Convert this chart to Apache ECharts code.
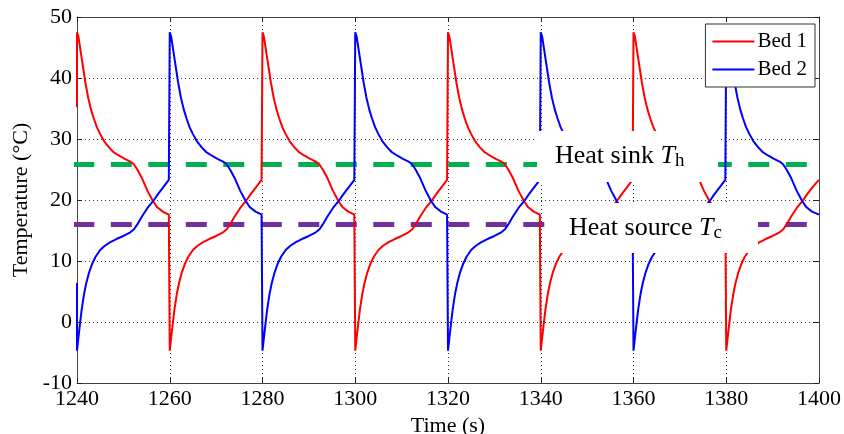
<!DOCTYPE html>
<html>
<head>
<meta charset="utf-8">
<script src="https://cdn.jsdelivr.net/npm/echarts@6/dist/echarts.min.js"></script>
<style>
  html, body { margin: 0; padding: 0; background: #fff; }
  #chart { width: 844px; height: 434px; }
</style>
</head>
<body>
<div id="chart"></div>
<script>
// tick labels
var xTicks = [1240, 1260, 1280, 1300, 1320, 1340, 1360, 1380, 1400];
var yTicks = [-10, 0, 10, 20, 30, 40, 50];

// Bed 1 (red) temperature, [time s, °C], one line per 20 s half cycle
var bed1 = [
  [1240, 35.2], [1240, 47.5], [1240.3, 46.8], [1240.6, 45.3], [1241, 43.3], [1241.3, 41.8], [1241.8, 39.3], [1242.4, 36.8], [1243, 34.9], [1243.6, 33.4], [1244.3, 31.9], [1245, 30.8], [1245.8, 29.7], [1246.8, 28.7], [1247.8, 27.9], [1249, 27.3], [1250.4, 26.7], [1251.5, 26.3], [1252.2, 25.9], [1253, 25.0], [1254, 23.6], [1255.2, 21.5], [1256.4, 19.8], [1257.3, 18.8], [1258.5, 18.1], [1259.8, 17.6],
  [1260, -4.7], [1260.3, -2.6], [1260.6, -0.6], [1261, 2.0], [1261.5, 4.5], [1262, 6.4], [1262.6, 8.1], [1263.3, 9.6], [1264, 10.7], [1265, 11.8], [1266, 12.5], [1267.2, 13.1], [1268.5, 13.6], [1270, 14.1], [1271.5, 14.7], [1272.3, 15.2], [1273, 16.0], [1274, 17.3], [1275.2, 18.7], [1276.4, 19.8], [1277.5, 21.0], [1278.7, 22.2], [1279.8, 23.3],
  [1280, 47.5], [1280.3, 46.8], [1280.6, 45.3], [1281, 43.3], [1281.3, 41.8], [1281.8, 39.3], [1282.4, 36.8], [1283, 34.9], [1283.6, 33.4], [1284.3, 31.9], [1285, 30.8], [1285.8, 29.7], [1286.8, 28.7], [1287.8, 27.9], [1289, 27.3], [1290.4, 26.7], [1291.5, 26.3], [1292.2, 25.9], [1293, 25.0], [1294, 23.6], [1295.2, 21.5], [1296.4, 19.8], [1297.3, 18.8], [1298.5, 18.1], [1299.8, 17.6],
  [1300, -4.7], [1300.3, -2.6], [1300.6, -0.6], [1301, 2.0], [1301.5, 4.5], [1302, 6.4], [1302.6, 8.1], [1303.3, 9.6], [1304, 10.7], [1305, 11.8], [1306, 12.5], [1307.2, 13.1], [1308.5, 13.6], [1310, 14.1], [1311.5, 14.7], [1312.3, 15.2], [1313, 16.0], [1314, 17.3], [1315.2, 18.7], [1316.4, 19.8], [1317.5, 21.0], [1318.7, 22.2], [1319.8, 23.3],
  [1320, 47.5], [1320.3, 46.8], [1320.6, 45.3], [1321, 43.3], [1321.3, 41.8], [1321.8, 39.3], [1322.4, 36.8], [1323, 34.9], [1323.6, 33.4], [1324.3, 31.9], [1325, 30.8], [1325.8, 29.7], [1326.8, 28.7], [1327.8, 27.9], [1329, 27.3], [1330.4, 26.7], [1331.5, 26.3], [1332.2, 25.9], [1333, 25.0], [1334, 23.6], [1335.2, 21.5], [1336.4, 19.8], [1337.3, 18.8], [1338.5, 18.1], [1339.8, 17.6],
  [1340, -4.7], [1340.3, -2.6], [1340.6, -0.6], [1341, 2.0], [1341.5, 4.5], [1342, 6.4], [1342.6, 8.1], [1343.3, 9.6], [1344, 10.7], [1345, 11.8], [1346, 12.5], [1347.2, 13.1], [1348.5, 13.6], [1350, 14.1], [1351.5, 14.7], [1352.3, 15.2], [1353, 16.0], [1354, 17.3], [1355.2, 18.7], [1356.4, 19.8], [1357.5, 21.0], [1358.7, 22.2], [1359.8, 23.3],
  [1360, 47.5], [1360.3, 46.8], [1360.6, 45.3], [1361, 43.3], [1361.3, 41.8], [1361.8, 39.3], [1362.4, 36.8], [1363, 34.9], [1363.6, 33.4], [1364.3, 31.9], [1365, 30.8], [1365.8, 29.7], [1366.8, 28.7], [1367.8, 27.9], [1369, 27.3], [1370.4, 26.7], [1371.5, 26.3], [1372.2, 25.9], [1373, 25.0], [1374, 23.6], [1375.2, 21.5], [1376.4, 19.8], [1377.3, 18.8], [1378.5, 18.1], [1379.8, 17.6],
  [1380, -4.7], [1380.3, -2.6], [1380.6, -0.6], [1381, 2.0], [1381.5, 4.5], [1382, 6.4], [1382.6, 8.1], [1383.3, 9.6], [1384, 10.7], [1385, 11.8], [1386, 12.5], [1387.2, 13.1], [1388.5, 13.6], [1390, 14.1], [1391.5, 14.7], [1392.3, 15.2], [1393, 16.0], [1394, 17.3], [1395.2, 18.7], [1396.4, 19.8], [1397.5, 21.0], [1398.7, 22.2], [1400, 23.3]
];

// Bed 2 (blue) temperature, [time s, °C], one line per 20 s half cycle
var bed2 = [
  [1240, 6.4], [1240, -4.7], [1240.3, -2.6], [1240.6, -0.6], [1241, 2.0], [1241.5, 4.5], [1242, 6.4], [1242.6, 8.1], [1243.3, 9.6], [1244, 10.7], [1245, 11.8], [1246, 12.5], [1247.2, 13.1], [1248.5, 13.6], [1250, 14.1], [1251.5, 14.7], [1252.3, 15.2], [1253, 16.0], [1254, 17.3], [1255.2, 18.7], [1256.4, 19.8], [1257.5, 21.0], [1258.7, 22.2], [1259.8, 23.3],
  [1260, 47.5], [1260.3, 46.8], [1260.6, 45.3], [1261, 43.3], [1261.3, 41.8], [1261.8, 39.3], [1262.4, 36.8], [1263, 34.9], [1263.6, 33.4], [1264.3, 31.9], [1265, 30.8], [1265.8, 29.7], [1266.8, 28.7], [1267.8, 27.9], [1269, 27.3], [1270.4, 26.7], [1271.5, 26.3], [1272.2, 25.9], [1273, 25.0], [1274, 23.6], [1275.2, 21.5], [1276.4, 19.8], [1277.3, 18.8], [1278.5, 18.1], [1279.8, 17.6],
  [1280, -4.7], [1280.3, -2.6], [1280.6, -0.6], [1281, 2.0], [1281.5, 4.5], [1282, 6.4], [1282.6, 8.1], [1283.3, 9.6], [1284, 10.7], [1285, 11.8], [1286, 12.5], [1287.2, 13.1], [1288.5, 13.6], [1290, 14.1], [1291.5, 14.7], [1292.3, 15.2], [1293, 16.0], [1294, 17.3], [1295.2, 18.7], [1296.4, 19.8], [1297.5, 21.0], [1298.7, 22.2], [1299.8, 23.3],
  [1300, 47.5], [1300.3, 46.8], [1300.6, 45.3], [1301, 43.3], [1301.3, 41.8], [1301.8, 39.3], [1302.4, 36.8], [1303, 34.9], [1303.6, 33.4], [1304.3, 31.9], [1305, 30.8], [1305.8, 29.7], [1306.8, 28.7], [1307.8, 27.9], [1309, 27.3], [1310.4, 26.7], [1311.5, 26.3], [1312.2, 25.9], [1313, 25.0], [1314, 23.6], [1315.2, 21.5], [1316.4, 19.8], [1317.3, 18.8], [1318.5, 18.1], [1319.8, 17.6],
  [1320, -4.7], [1320.3, -2.6], [1320.6, -0.6], [1321, 2.0], [1321.5, 4.5], [1322, 6.4], [1322.6, 8.1], [1323.3, 9.6], [1324, 10.7], [1325, 11.8], [1326, 12.5], [1327.2, 13.1], [1328.5, 13.6], [1330, 14.1], [1331.5, 14.7], [1332.3, 15.2], [1333, 16.0], [1334, 17.3], [1335.2, 18.7], [1336.4, 19.8], [1337.5, 21.0], [1338.7, 22.2], [1339.8, 23.3],
  [1340, 47.5], [1340.3, 46.8], [1340.6, 45.3], [1341, 43.3], [1341.3, 41.8], [1341.8, 39.3], [1342.4, 36.8], [1343, 34.9], [1343.6, 33.4], [1344.3, 31.9], [1345, 30.8], [1345.8, 29.7], [1346.8, 28.7], [1347.8, 27.9], [1349, 27.3], [1350.4, 26.7], [1351.5, 26.3], [1352.2, 25.9], [1353, 25.0], [1354, 23.6], [1355.2, 21.5], [1356.4, 19.8], [1357.3, 18.8], [1358.5, 18.1], [1359.8, 17.6],
  [1360, -4.7], [1360.3, -2.6], [1360.6, -0.6], [1361, 2.0], [1361.5, 4.5], [1362, 6.4], [1362.6, 8.1], [1363.3, 9.6], [1364, 10.7], [1365, 11.8], [1366, 12.5], [1367.2, 13.1], [1368.5, 13.6], [1370, 14.1], [1371.5, 14.7], [1372.3, 15.2], [1373, 16.0], [1374, 17.3], [1375.2, 18.7], [1376.4, 19.8], [1377.5, 21.0], [1378.7, 22.2], [1379.8, 23.3],
  [1380, 47.5], [1380.3, 46.8], [1380.6, 45.3], [1381, 43.3], [1381.3, 41.8], [1381.8, 39.3], [1382.4, 36.8], [1383, 34.9], [1383.6, 33.4], [1384.3, 31.9], [1385, 30.8], [1385.8, 29.7], [1386.8, 28.7], [1387.8, 27.9], [1389, 27.3], [1390.4, 26.7], [1391.5, 26.3], [1392.2, 25.9], [1393, 25.0], [1394, 23.6], [1395.2, 21.5], [1396.4, 19.8], [1397.3, 18.8], [1398.5, 18.1], [1400, 17.6]
];

// reference temperatures
var heatSinkT = 25.8;
var heatSourceT = 16.0;
var lineSpan = [1239.2, 1400];

var serif = "'Liberation Serif', 'Times New Roman', serif";
var axisColor = "#444";

var myChart = echarts.init(document.getElementById("chart"));

function boxAxis(pos, isX) {
  var ax = {
    type: "value",
    position: pos,
    min: isX ? xTicks[0] : yTicks[0],
    max: isX ? xTicks[xTicks.length - 1] : yTicks[yTicks.length - 1],
    interval: isX ? xTicks[1] - xTicks[0] : yTicks[1] - yTicks[0],
    axisLine: { show: true, onZero: false, lineStyle: { color: axisColor, width: 1 } },
    axisTick: { show: true, inside: true, length: 5, lineStyle: { color: "#222" } },
    axisLabel: { show: false },
    splitLine: { show: false },
  };
  return ax;
}

var labelStyle = {
  show: true,
  color: "#000",
  fontSize: 22,
  fontFamily: serif,
  margin: 5,
  formatter: function (v) {
    return String(v);
  },
};

var xBottom = boxAxis("bottom", true);
xBottom.axisLabel = labelStyle;
xBottom.splitLine = { show: true, lineStyle: { color: "#333", type: [1, 3], width: 1 } };
xBottom.name = "Time (s)";
xBottom.nameLocation = "middle";
xBottom.nameGap = 26;
xBottom.nameTextStyle = { color: "#000", fontSize: 22, fontFamily: serif };

var yLeft = boxAxis("left", false);
yLeft.axisLabel = labelStyle;
yLeft.splitLine = { show: true, lineStyle: { color: "#333", type: [1, 3], width: 1 } };
yLeft.name = "Temperature (°C)";
yLeft.nameLocation = "middle";
yLeft.nameGap = 42;
yLeft.nameTextStyle = { color: "#000", fontSize: 22, fontFamily: serif };

var option = {
  animation: false,
  backgroundColor: "#fff",
  grid: { left: 77, right: 25, top: 17, bottom: 51, containLabel: false, outerBoundsMode: "none" },
  legend: {
    data: ["Bed 1", "Bed 2"],
    orient: "vertical",
    right: 29,
    top: 24,
    backgroundColor: "#fff",
    borderColor: "#333",
    borderWidth: 1,
    padding: [6, 8, 6, 7],
    itemGap: 5,
    itemWidth: 42,
    itemHeight: 2,
    icon: "rect",
    textStyle: { color: "#000", fontSize: 21, fontFamily: serif, lineHeight: 23, padding: [0, 0, 0, -2] },
    z: 20,
  },
  xAxis: [xBottom, boxAxis("top", true)],
  yAxis: [yLeft, boxAxis("right", false)],
  series: [
    {
      name: "Heat sink",
      type: "line",
      data: [[lineSpan[0], heatSinkT], [lineSpan[1], heatSinkT]],
      symbol: "none",
      clip: false,
      silent: true,
      lineStyle: { color: "#00b050", width: 5, type: [21, 16.5], cap: "butt" },
      z: 3,
    },
    {
      name: "Heat source",
      type: "line",
      data: [[lineSpan[0], heatSourceT], [lineSpan[1], heatSourceT]],
      symbol: "none",
      clip: false,
      silent: true,
      lineStyle: { color: "#7030a0", width: 5, type: [21, 16.5], cap: "butt" },
      z: 3,
    },
    {
      name: "Bed 1",
      type: "line",
      data: bed1,
      symbol: "none",
      lineStyle: { color: "#ff0000", width: 2 },
      itemStyle: { color: "#ff0000" },
      z: 4,
    },
    {
      name: "Bed 2",
      type: "line",
      data: bed2,
      symbol: "none",
      lineStyle: { color: "#0000ff", width: 2 },
      itemStyle: { color: "#0000ff" },
      z: 4,
    },
  ],
  graphic: [
    // white annotation boxes that hide the curves behind the labels
    { type: "rect", shape: { x: 537, y: 131, width: 181, height: 51 }, style: { fill: "#fff" }, z: 10 },
    { type: "rect", shape: { x: 545, y: 203, width: 213, height: 50 }, style: { fill: "#fff" }, z: 10 },
    {
      type: "text",
      x: 555,
      y: 141,
      z: 11,
      style: {
        text: "{a|Heat sink }{b|T}{c|h}",
        rich: {
          a: { fontSize: 26, fontFamily: serif, fill: "#000", lineHeight: 30 },
          b: { fontSize: 26, fontFamily: serif, fontStyle: "italic", fill: "#000", lineHeight: 30 },
          c: { fontSize: 19, fontFamily: serif, fill: "#000", lineHeight: 30, verticalAlign: "bottom" },
        },
      },
    },
    {
      type: "text",
      x: 569,
      y: 213,
      z: 11,
      style: {
        text: "{a|Heat source }{b|T}{c|c}",
        rich: {
          a: { fontSize: 26, fontFamily: serif, fill: "#000", lineHeight: 30 },
          b: { fontSize: 26, fontFamily: serif, fontStyle: "italic", fill: "#000", lineHeight: 30 },
          c: { fontSize: 19, fontFamily: serif, fill: "#000", lineHeight: 30, verticalAlign: "bottom" },
        },
      },
    },
  ],
};

myChart.setOption(option);
</script>
</body>
</html>
